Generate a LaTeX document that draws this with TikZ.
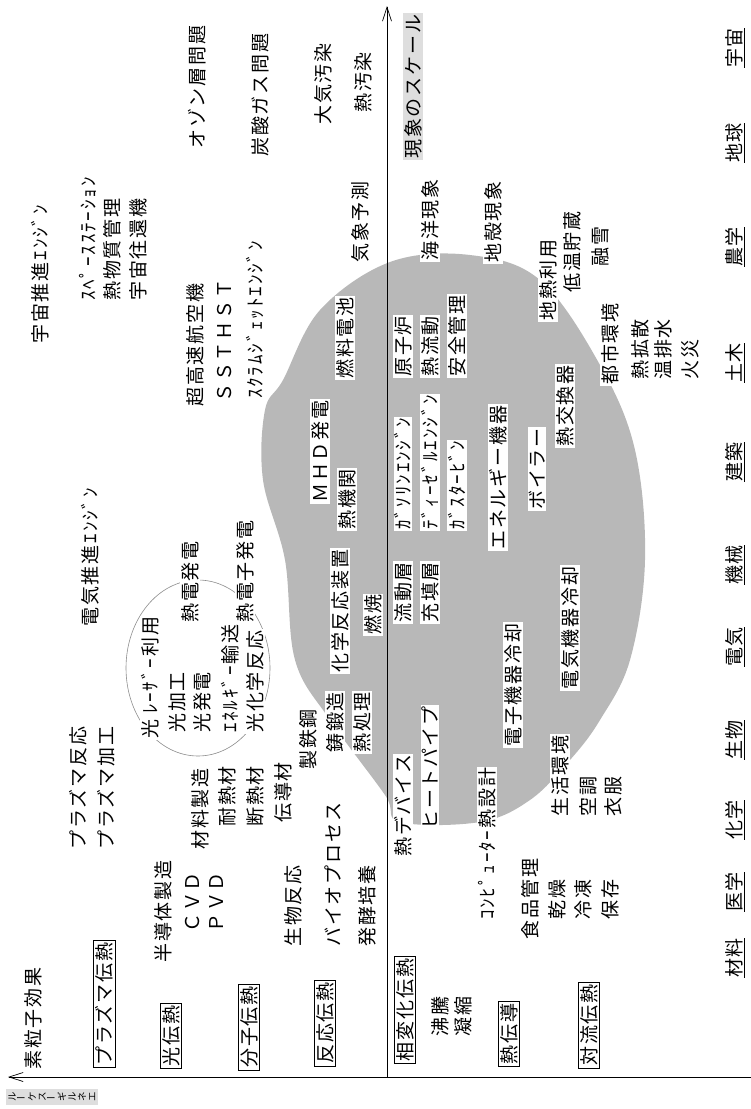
\documentclass[tikz,border=0pt]{standalone}
\usepackage{fontspec}
\newfontfamily\jp{Noto Sans CJK JP}[LetterSpace=10]
\usetikzlibrary{arrows.meta}
\begin{document}
\begin{tikzpicture}[x=1pt,y=-1pt,
  jt/.style={rotate=90, anchor=west, inner sep=1pt, fill=white, font=\jp\fontsize{19}{21}\selectfont},
  jc/.style={jt, anchor=center},
  bxl/.style={jt, anchor=center, draw, line width=0.6pt, inner sep=2pt},
  ul/.style={jt, anchor=center, fill=none},
  axisl/.style={line width=0.7pt, -{Straight Barb[length=14pt,width=9pt]}},
  dotbg/.style={fill=black!13}
]
\useasboundingbox (0,0) rectangle (751,1109);
% shaded blob
\fill[black!28] plot[smooth cycle, tension=0.6] coordinates {
 (283,380) (320,310) (390,262) (470,255) (540,280) (600,365) (635,450) (645,560)
 (630,660) (600,720) (570,760) (530,800) (480,822) (400,822) (385,795) (330,720)
 (295,660) (285,560) (263,480) (265,410)};
% circle around light group
\draw[black!45, line width=0.6pt] (198,668) ellipse [x radius=72, y radius=88];
% axes
\coordinate (vb) at (387,1077);
\coordinate (vt) at (387,6);
\coordinate (hr) at (751,1077);
\coordinate (hl) at (8,1077);
\draw[axisl] (vb) -- (vt);
\draw[axisl] (hr) -- (hl);
% axis labels
\node[jt, dotbg] (sc1) at (413,160) {現象のスケール};
\node[rotate=90, dotbg, inner xsep=3pt, inner ysep=2pt, align=center, font=\jp\fontsize{9.5}{10}\selectfont] (sc2) at (52,1097)
 {ル\\\rotatebox{90}{ー}\\ケ\\ス\\\rotatebox{90}{ー}\\ギ\\ル\\ネ\\エ};
% upper area
\node[jt] (a1) at (40,345) {宇宙推進ｴﾝｼﾞﾝ};
\node[jt] (a2) at (88,302) {ｽﾍﾟｰｽｽﾃｰｼｮﾝ};
\node[jt] (a3) at (112,302) {熱物質管理};
\node[jt] (a4) at (138,302) {宇宙往還機};
\node[jt] (a5) at (197,150) {オゾン層問題};
\node[jt] (a6) at (260,158) {炭酸ガス問題};
\node[jt] (a7) at (323,126) {大気汚染};
\node[jt] (a8) at (363,114) {熱汚染};
\node[jt] (a9) at (360,264) {気象予測};
\node[jt] (a10) at (430,262) {海洋現象};
\node[jt] (a11) at (493,264) {地殻現象};
\node[jt] (a12) at (548,322) {地熱利用};
\node[jt] (a13) at (572,294) {低温貯蔵};
\node[jt] (a14) at (600,268) {融雪};
\node[jt] (a15) at (610,386) {都市環境};
\node[jt] (a16) at (640,381) {熱拡散};
\node[jt] (a17) at (663,381) {温排水};
\node[jt] (a18) at (690,381) {火災};
\node[jt] (b1) at (195,408) {超高速航空機};
\node[jt] (b2) at (225,404) {ＳＳＴＨＳＴ};
\node[jt] (b3) at (255,400) {ｽｸﾗﾑｼﾞｪｯﾄｴﾝｼﾞﾝ};
\node[jt] (b4) at (345,380) {燃料電池};
\node[jt] (b5) at (403,378) {原子炉};
\node[jt] (b6) at (430,378) {熱流動};
\node[jt] (b7) at (457,378) {安全管理};
\node[jt] (b8) at (565,448) {熱交換器};
% middle
\node[jt] (c1) at (90,628) {電気推進ｴﾝｼﾞﾝ};
\node[jt] (c2) at (190,624) {熱電発電};
\node[jt] (c3) at (245,624) {熱電子発電};
\node[jt] (c4) at (320,504) {ＭＨＤ発電};
\node[jt] (c5) at (347,531) {熱機関};
\node[jt] (c6) at (403,531) {ｶﾞｿﾘﾝｴﾝｼﾞﾝ};
\node[jt] (c7) at (430,531) {ﾃﾞｨｰｾﾞﾙｴﾝｼﾞﾝ};
\node[jt] (c8) at (457,531) {ｶﾞｽﾀｰﾋﾞﾝ};
\node[jt] (c9) at (498,551) {エネルギー機器};
\node[jt] (c10) at (537,511) {ボイラー};
\node[jt] (c11) at (570,691) {電気機器冷却};
\node[jt] (c12) at (513,748) {電子機器冷却};
\node[jt] (c13) at (340,674) {化学反応装置};
\node[jt] (c14) at (373,636) {燃焼};
\node[jt] (c15) at (403,624) {流動層};
\node[jt] (c16) at (430,624) {充填層};
% light group
\node[jt] (d1) at (150,740) {光\hspace{6pt}ﾚｰｻﾞｰ利用};
\node[jt] (d2) at (177,734) {光加工};
\node[jt] (d3) at (202,734) {光発電};
\node[jt] (d4) at (230,734) {ｴﾈﾙｷﾞｰ輸送};
\node[jt] (d5) at (255,734) {光化学反応};
% lower-left
\node[jt] (e1) at (78,851) {プラズマ反応};
\node[jt] (e2) at (106,851) {プラズマ加工};
\node[jt] (e3) at (200,851) {材料製造};
\node[jt] (e4) at (227,828) {耐熱材};
\node[jt] (e5) at (255,828) {断熱材};
\node[jt] (e6) at (283,824) {伝導材};
\node[jt] (e7) at (308,771) {製鉄鋼};
\node[jt] (e8) at (335,754) {鋳鍛造};
\node[jt] (e9) at (362,754) {熱処理};
\node[jt] (e10) at (163,964) {半導体製造};
\node[jt] (e11) at (193,934) {ＣＶＤ};
\node[jt] (e12) at (217,934) {ＰＶＤ};
\node[jt] (e13) at (293,948) {生物反応};
\node[jt] (e14) at (333,948) {バイオプロセス};
\node[jt] (e15) at (367,948) {発酵培養};
\node[jt] (e16) at (33,1071) {素粒子効果};
% lower-right
\node[jt] (f1) at (403,858) {熱デバイス};
\node[jt] (f2) at (430,831) {ヒートパイプ};
\node[jt] (f3) at (487,921) {ｺﾝﾋﾟｭｰﾀｰ熱設計};
\node[jt] (f4) at (440,1038) {沸騰};
\node[jt] (f5) at (463,1038) {凝縮};
\node[jt] (f6) at (530,941) {食品管理};
\node[jt] (f7) at (557,921) {乾燥};
\node[jt] (f8) at (583,921) {冷凍};
\node[jt] (f9) at (610,921) {保存};
\node[jt] (f10) at (560,818) {生活環境};
\node[jt] (f11) at (588,818) {空調};
\node[jt] (f12) at (613,818) {衣服};
% boxed categories
\node[bxl] (g1) at (104,1004) {プラズマ伝熱};
\node[bxl] (g2) at (171,1036) {光伝熱};
\node[bxl] (g3) at (249,1027) {分子伝熱};
\node[bxl] (g4) at (325,1023) {反応伝熱};
\node[bxl] (g5) at (405,1010) {相変化伝熱};
\node[bxl] (g6) at (509,1034) {熱伝導};
\node[bxl] (g7) at (589,1025) {対流伝熱};
% field labels
\node[ul] (h1) at (735,48) {\underline{宇宙}};
\node[ul] (h2) at (735,143) {\underline{地球}};
\node[ul] (h3) at (735,247) {\underline{農学}};
\node[ul] (h4) at (735,363) {\underline{土木}};
\node[ul] (h5) at (735,462) {\underline{建築}};
\node[ul] (h6) at (735,565) {\underline{機械}};
\node[ul] (h7) at (735,647) {\underline{電気}};
\node[ul] (h8) at (735,740) {\underline{生物}};
\node[ul] (h9) at (735,820) {\underline{化学}};
\node[ul] (h10) at (735,892) {\underline{医学}};
\node[ul] (h11) at (735,958) {\underline{材料}};
\end{tikzpicture}
\end{document}
